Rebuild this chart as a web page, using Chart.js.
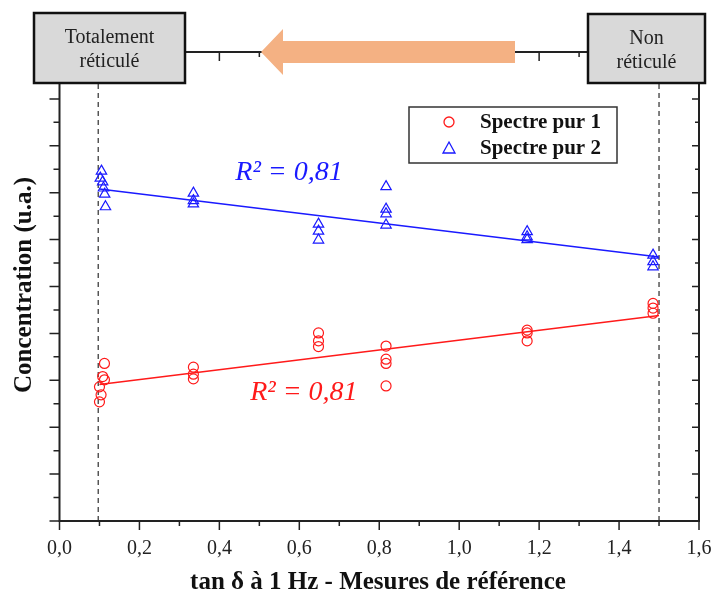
<!DOCTYPE html>
<html>
<head>
<meta charset="utf-8">
<script src="https://cdn.jsdelivr.net/npm/chart.js@4.4.1/dist/chart.umd.min.js"></script>
<style>
  html, body { margin: 0; padding: 0; background: #fff; }
</style>
</head>
<body>
<canvas id="chart" width="714" height="597"></canvas>
<script>
// tick labels of the x axis (tan delta)
const xTickLabels = ["0,0", "0,2", "0,4", "0,6", "0,8", "1,0", "1,2", "1,4", "1,6"];

// Spectre pur 1 (red circles)
const pur1X = [0.1125, 0.108, 0.1125, 0.1, 0.104, 0.1, 0.335, 0.335, 0.335, 0.648, 0.648, 0.648, 0.817, 0.817, 0.817, 0.817, 1.17, 1.17, 1.17, 1.485, 1.485, 1.485];
const pur1Y = [3.36, 3.08, 3.01, 2.86, 2.69, 2.54, 3.28, 3.13, 3.03, 4.01, 3.84, 3.72, 3.73, 3.45, 3.36, 2.88, 4.07, 4.01, 3.84, 4.64, 4.54, 4.43];

// Spectre pur 2 (blue triangles)
const pur2X = [0.105, 0.102, 0.108, 0.11, 0.113, 0.115, 0.335, 0.335, 0.335, 0.648, 0.648, 0.648, 0.817, 0.817, 0.817, 0.817, 1.17, 1.17, 1.17, 1.485, 1.485, 1.485];
const pur2Y = [7.46, 7.31, 7.23, 7.10, 6.97, 6.70, 6.99, 6.83, 6.76, 6.33, 6.18, 5.99, 7.13, 6.65, 6.55, 6.31, 6.17, 6.06, 6.00, 5.67, 5.53, 5.42];

// linear fits (end points)
const fit1X = [0.1, 1.5];
const fit1Y = [2.91, 4.38];
const fit2X = [0.1, 1.5];
const fit2Y = [7.08, 5.63];

// reference measurements (dashed verticals)
const refX = [0.097, 1.5];

// R² labels: text, x, y (data units)
const r2Labels = [
    { text: "R² = 0,81", x: 0.44, y: 7.42, color: "#1a1aff" },
    { text: "R² = 0,81", x: 0.477, y: 2.73, color: "#ff1a1a" }
];

const RED = "#ff1a1a";
const BLUE = "#1a1aff";
const SERIF = "'Liberation Serif', 'Times New Roman', serif";

const toPoints = (xs, ys) => xs.map((v, i) => ({ x: v, y: ys[i] }));

// frame, ticks and all the text decorations
const decorations = {
    id: "decorations",
    afterDraw(chart) {
        const { ctx, chartArea: a, scales: { x, y } } = chart;
        ctx.save();

        // frame
        ctx.strokeStyle = "#222";
        ctx.lineWidth = 2;
        ctx.strokeRect(a.left, a.top, a.right - a.left, a.bottom - a.top);

        // ticks (bottom out, top in, left out, right in)
        ctx.lineWidth = 1.5;
        ctx.beginPath();
        for (let i = 0; i <= 16; i++) {
            const px = x.getPixelForValue(i / 10);
            const len = i % 2 === 0 ? 9 : 5;
            ctx.moveTo(px, a.bottom); ctx.lineTo(px, a.bottom + len);
            ctx.moveTo(px, a.top); ctx.lineTo(px, a.top + len);
        }
        for (let i = 0; i <= 20; i++) {
            const py = y.getPixelForValue(i / 2);
            const len = i % 2 === 0 ? 10 : 6;
            ctx.moveTo(a.left, py); ctx.lineTo(a.left - len, py);
            ctx.moveTo(a.right, py); ctx.lineTo(a.right - (i % 2 === 0 ? 7 : 4), py);
        }
        ctx.stroke();

        // axis titles
        ctx.fillStyle = "#111";
        ctx.font = "bold 25px " + SERIF;
        ctx.textAlign = "center";
        ctx.textBaseline = "middle";
        ctx.fillText("tan δ à 1 Hz - Mesures de référence", 378, 583);
        ctx.save();
        ctx.translate(25, 285);
        ctx.rotate(-Math.PI / 2);
        ctx.fillText("Concentration (u.a.)", 0, 0);
        ctx.restore();

        // R² labels
        ctx.font = "italic 28px " + SERIF;
        ctx.textAlign = "left";
        r2Labels.forEach(l => {
            ctx.fillStyle = l.color;
            ctx.fillText(l.text, x.getPixelForValue(l.x), y.getPixelForValue(l.y));
        });

        // arrow: non réticulé -> totalement réticulé
        ctx.fillStyle = "#f4b183";
        ctx.beginPath();
        ctx.moveTo(261, 52);
        ctx.lineTo(283, 29);
        ctx.lineTo(283, 41);
        ctx.lineTo(515, 41);
        ctx.lineTo(515, 63);
        ctx.lineTo(283, 63);
        ctx.lineTo(283, 75);
        ctx.closePath();
        ctx.fill();

        // boxes
        const box = (x0, y0, w, h, lines) => {
            ctx.fillStyle = "#d9d9d9";
            ctx.fillRect(x0, y0, w, h);
            ctx.strokeStyle = "#111";
            ctx.lineWidth = 2.5;
            ctx.strokeRect(x0, y0, w, h);
            ctx.fillStyle = "#222";
            ctx.font = "20px " + SERIF;
            ctx.textAlign = "center";
            ctx.textBaseline = "middle";
            lines.forEach((t, i) => ctx.fillText(t, x0 + w / 2, y0 + 25 + i * 24));
        };
        box(34, 13, 151, 70, ["Totalement", "réticulé"]);
        box(588, 14, 117, 69, ["Non", "réticulé"]);

        // legend
        ctx.fillStyle = "#fff";
        ctx.fillRect(409, 107, 208, 56);
        ctx.strokeStyle = "#333";
        ctx.lineWidth = 1.5;
        ctx.strokeRect(409, 107, 208, 56);
        ctx.font = "bold 21px " + SERIF;
        ctx.textAlign = "left";
        ctx.fillStyle = "#111";
        [0, 1].forEach(i => {
            const ds = chart.data.datasets[i];
            const ly = 122 + i * 26;
            ctx.strokeStyle = ds.borderColor;
            ctx.lineWidth = 1.3;
            ctx.beginPath();
            if (ds.pointStyle === "circle") {
                ctx.arc(449, ly, 5, 0, Math.PI * 2);
            } else {
                ctx.moveTo(449, ly - 6);
                ctx.lineTo(455, ly + 5);
                ctx.lineTo(443, ly + 5);
                ctx.closePath();
            }
            ctx.stroke();
            ctx.fillText(ds.label, 480, ly + 1);
        });

        ctx.restore();
    }
};

const dashed = (xv) => ({
    label: "ref",
    data: toPoints([xv, xv], [0, 10]),
    showLine: true,
    borderColor: "#555",
    borderWidth: 1.5,
    borderDash: [5, 4],
    pointRadius: 0
});

new Chart(document.getElementById("chart"), {
    type: "scatter",
    data: {
        datasets: [
            {
                label: "Spectre pur 1",
                data: toPoints(pur1X, pur1Y),
                pointStyle: "circle",
                pointRadius: 5,
                borderColor: RED,
                backgroundColor: "rgba(0,0,0,0)",
                borderWidth: 1.2
            },
            {
                label: "Spectre pur 2",
                data: toPoints(pur2X, pur2Y),
                pointStyle: "triangle",
                pointRadius: 6,
                borderColor: BLUE,
                backgroundColor: "rgba(0,0,0,0)",
                borderWidth: 1.2
            },
            {
                label: "fit 1",
                data: toPoints(fit1X, fit1Y),
                showLine: true,
                borderColor: RED,
                borderWidth: 1.5,
                pointRadius: 0
            },
            {
                label: "fit 2",
                data: toPoints(fit2X, fit2Y),
                showLine: true,
                borderColor: BLUE,
                borderWidth: 1.5,
                pointRadius: 0
            },
            dashed(refX[0]),
            dashed(refX[1])
        ]
    },
    options: {
        responsive: false,
        animation: false,
        layout: { padding: { top: 52, right: 15, left: 0, bottom: 0 } },
        plugins: {
            legend: { display: false },
            tooltip: { enabled: false }
        },
        scales: {
            x: {
                type: "linear",
                min: 0,
                max: 1.6,
                grid: { display: false, drawTicks: false },
                border: { display: false },
                ticks: {
                    stepSize: 0.2,
                    autoSkip: false,
                    maxRotation: 0,
                    padding: 16,
                    color: "#222",
                    font: { family: SERIF, size: 20 },
                    callback: (v, i) => xTickLabels[i]
                },
                // fixed height, and no extra room kept for the end labels
                afterFit: (s) => {
                    s.height = 76;
                    s.paddingLeft = 0;
                    s.paddingRight = 0;
                }
            },
            y: {
                type: "linear",
                min: 0,
                max: 10,
                grid: { display: false, drawTicks: false },
                border: { display: false },
                ticks: { display: false },
                afterFit: (s) => { s.width = 59.5; }
            }
        }
    },
    plugins: [decorations]
});
</script>
</body>
</html>
